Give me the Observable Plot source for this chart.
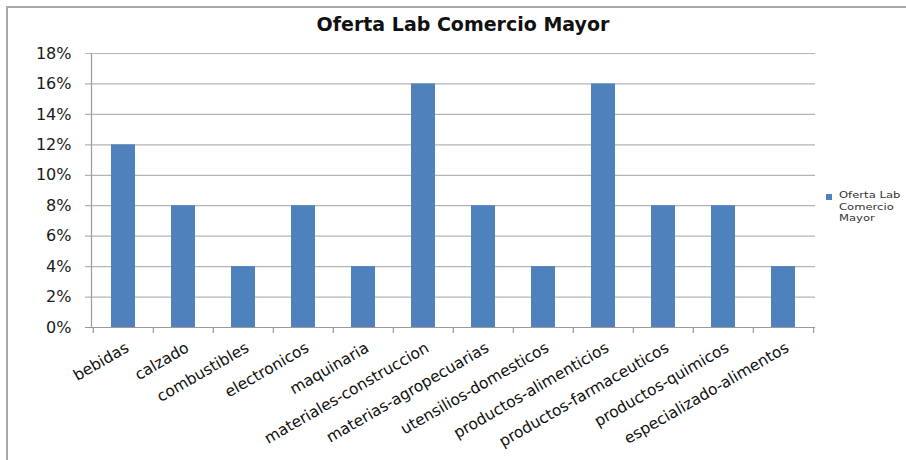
<!DOCTYPE html>
<html><head><meta charset="utf-8">
<script src="https://cdn.jsdelivr.net/npm/d3@7"></script>
<script src="https://cdn.jsdelivr.net/npm/@observablehq/plot@0.6"></script>
<style>
body{margin:0;background:#fff;}
#wrap{position:relative;width:906px;height:460px;overflow:hidden;}
#frame{position:absolute;left:6px;top:6px;width:920px;height:470px;border-top:2px solid #a8a8a8;border-left:2px solid #a8a8a8;}
#title{position:absolute;left:0;width:926px;top:13px;text-align:center;font:bold 19px "DejaVu Sans";color:#111;}
#legend{position:absolute;left:826px;top:189px;font:9.5px "DejaVu Sans";color:#333;line-height:11.5px}
#legend .sw{position:absolute;left:0;top:5px;width:6px;height:6px;background:#4f81bd}
#legend .tx{margin-left:13px;transform:scaleX(1.22);transform-origin:0 0}
#chart{position:absolute;left:0;top:0}
</style></head>
<body>
<div id="wrap">
  <div id="chart"></div>
  <div id="frame"></div>
  <div id="title"></div>
  <div id="legend"><div class="sw"></div><div class="tx"></div></div>
</div>
<script>
const chartTitle = "Oferta Lab Comercio Mayor";
const seriesLines = ["Oferta Lab", "Comercio", "Mayor"];
const categories = ["bebidas","calzado","combustibles","electronicos","maquinaria","materiales-construccion","materias-agropecuarias","utensilios-domesticos","productos-alimenticios","productos-farmaceuticos","productos-quimicos","especializado-alimentos"];
const values = [12,8,4,8,4,16,8,4,16,8,8,4];
const yTicks = [0,2,4,6,8,10,12,14,16,18];

document.getElementById("title").textContent = chartTitle;
document.querySelector("#legend .tx").innerHTML = seriesLines.join("<br>");

const data = categories.map((c,i)=>({cat:c, v:values[i]}));
const W = 906, H = 460, mL = 91, mR = 91;
const step = (W - mL - mR) / 12;
const axisColor = "#9a9a9a";

const chart = Plot.plot({
  width: W, height: H,
  marginLeft: mL, marginRight: mR, marginTop: 53, marginBottom: 133,
  style: {fontFamily: "DejaVu Sans", background: "white"},
  x: {domain: categories, paddingInner: 0.6, paddingOuter: 0.3, label: null, axis: null},
  y: {domain: [0, 18], label: null, axis: null},
  marks: [
    Plot.ruleY(yTicks, {y: d=>d, stroke: "#b4b4b4", strokeWidth: 1.2, insetLeft: -6}),
    Plot.barY(data, {x: "cat", y: "v", fill: "#4f81bd"}),
    Plot.frame({anchor: "left", stroke: axisColor, strokeWidth: 1.2}),
    Plot.ruleY([0], {y: d=>d, stroke: axisColor, strokeWidth: 1.2, insetLeft: -6}),
    Plot.ruleX(categories, {x: d=>d, dx: -step/2, y1: 0, y2: 0, insetBottom: -6, stroke: axisColor, strokeWidth: 1.2}),
    Plot.ruleX(categories.slice(-1), {x: d=>d, dx: step/2, y1: 0, y2: 0, insetBottom: -6, stroke: axisColor, strokeWidth: 1.2}),
    Plot.text(yTicks, {y: d=>d, text: d=>d+"%", frameAnchor: "left", textAnchor: "end", dx: -20, fontSize: 16, fill: "#1a1a1a"}),
    Plot.text(categories, {x: d=>d, y: ()=>0, text: d=>d, rotate: -30, textAnchor: "end", lineAnchor: "middle", dx: 4, dy: 19, fontSize: 15.5, fill: "#111"})
  ]
});
document.getElementById("chart").appendChild(chart);
</script>
</body></html>
